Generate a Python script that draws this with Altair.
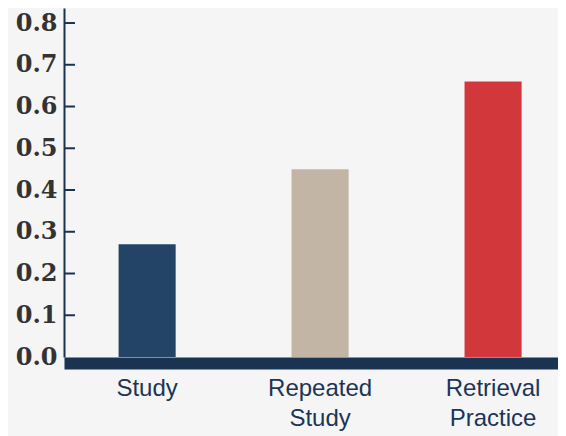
import altair as alt
import pandas as pd

categories = ["Study", "Repeated Study", "Retrieval Practice"]
values = [0.27, 0.45, 0.66]
bar_colors = ["#234466", "#c3b5a5", "#d2373c"]
tick_values = [0.0, 0.1, 0.2, 0.3, 0.4, 0.5, 0.6, 0.7, 0.8]
inner_ticks = [0.1, 0.2, 0.3, 0.4, 0.5, 0.6, 0.7, 0.8]

NAVY = "#1b3352"

df = pd.DataFrame({"category": categories, "value": values, "color": bar_colors})
ticks_df = pd.DataFrame({"value": inner_ticks})

y_scale = alt.Scale(domain=[0, 0.836], nice=False, zero=False)
x_scale = alt.Scale(domain=categories, paddingInner=0.67, paddingOuter=0.263, align=0.6)

y_axis = alt.Axis(
    title=None,
    values=tick_values,
    format=".1f",
    grid=False,
    ticks=False,
    domainColor=NAVY,
    domainWidth=2,
    labelFont="DejaVu Serif",
    labelFontWeight="bold",
    labelFontSize=24,
    labelColor="#333333",
    labelPadding=7,
)

bars = alt.Chart(df).mark_bar().encode(
    x=alt.X(
        "category:N",
        scale=x_scale,
        sort=categories,
        axis=alt.Axis(
            title=None,
            domainColor=NAVY,
            domainWidth=12,
            offset=6,
            ticks=False,
            labelFont="Liberation Sans",
            labelFontSize=24,
            labelColor="#1c3556",
            labelPadding=13,
            labelAngle=0,
            labelExpr="split(datum.label, ' ')",
            labelLineHeight=30,
        ),
    ),
    y=alt.Y("value:Q", scale=y_scale, axis=y_axis),
    color=alt.Color("color:N", scale=None),
)

ticks = alt.Chart(ticks_df).mark_rule(color=NAVY, strokeWidth=2).encode(
    y=alt.Y("value:Q", scale=y_scale, axis=y_axis),
    x=alt.value(0),
    x2=alt.value(11),
)

chart = (
    alt.layer(bars, ticks)
    .properties(
        width=494,
        height=349,
        autosize=alt.AutoSizeParams(type="none"),
        padding={"left": 56, "top": 0, "right": 0, "bottom": 79},
        background="#f5f5f5",
    )
    .configure_view(stroke=None)
)

chart.save("out.html", embed_options={"renderer": "svg", "actions": False})
